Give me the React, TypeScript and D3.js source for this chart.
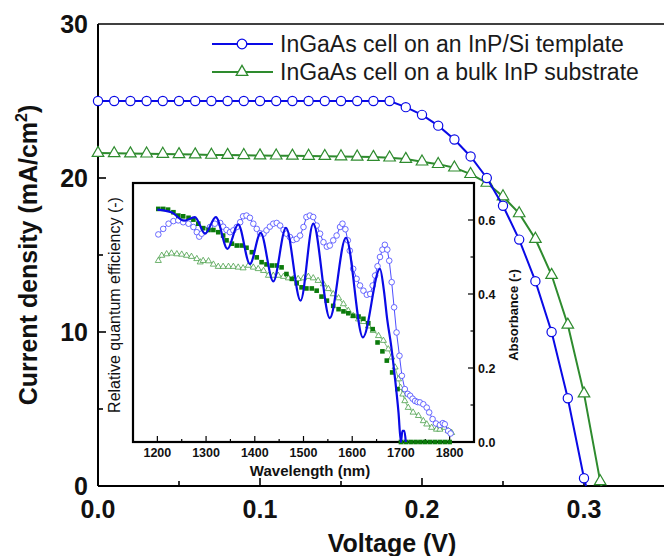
import React from "react";
import * as d3 from "d3";

// ---------- Main J-V data ----------
const voltage = [0, 0.01, 0.02, 0.03, 0.04, 0.05, 0.06, 0.07, 0.08, 0.09, 0.1, 0.11, 0.12, 0.13, 0.14, 0.15, 0.16, 0.17, 0.18, 0.19, 0.2, 0.21, 0.22, 0.23, 0.24, 0.25, 0.26, 0.27, 0.28, 0.29, 0.3, 0.31];
const jSiTemplate = [25.0, 25.0, 25.0, 25.0, 25.0, 25.0, 25.0, 25.0, 25.0, 25.0, 25.0, 25.0, 25.0, 25.0, 25.0, 25.0, 25.0, 25.0, 25.0, 24.6, 24.1, 23.4, 22.5, 21.4, 20.0, 18.2, 16.0, 13.3, 10.0, 5.7, 0.5];
const vocSiTemplate = 0.3013;
const jBulk = [21.62, 21.6, 21.59, 21.58, 21.56, 21.54, 21.52, 21.5, 21.49, 21.48, 21.46, 21.45, 21.44, 21.43, 21.42, 21.4, 21.38, 21.36, 21.32, 21.23, 21.06, 20.9, 20.67, 20.25, 19.68, 18.8, 17.7, 16.04, 13.7, 10.47, 6.0, 0.3];
const vocBulk = 0.3108;

const xTicks = [0, 0.1, 0.2, 0.3];
const xMinor = [0.05, 0.15, 0.25];
const yTicks = [0, 10, 20, 30];
const yMinor = [5, 15, 25];

const legendLabels = ["InGaAs cell on an InP/Si template", "InGaAs cell on a bulk InP substrate"];

// ---------- Inset data ----------
// Relative QE, InP/Si template cell (blue open circles)
const qeSiWl = [1202, 1212, 1223, 1233, 1243, 1253, 1264, 1274, 1281, 1286, 1291, 1298, 1308, 1318, 1329, 1335, 1342, 1349, 1356, 1363, 1370, 1376, 1383, 1390, 1397, 1404, 1411, 1418, 1424, 1431, 1438, 1445, 1452, 1459, 1465, 1472, 1479, 1486, 1493, 1500, 1506, 1513, 1520, 1527, 1534, 1541, 1548, 1554, 1561, 1568, 1575, 1580, 1586, 1591, 1595, 1602, 1609, 1616, 1623, 1630, 1637, 1642, 1647, 1652, 1657, 1662, 1667, 1672, 1676, 1681, 1686, 1691, 1697, 1702, 1708, 1714, 1719, 1724, 1729, 1734, 1739, 1746, 1753, 1758, 1765, 1772, 1780, 1786, 1790, 1797, 1802];
const qeSiVal = [0.561, 0.576, 0.59, 0.597, 0.599, 0.594, 0.59, 0.581, 0.567, 0.555, 0.563, 0.573, 0.581, 0.59, 0.592, 0.582, 0.573, 0.567, 0.572, 0.581, 0.594, 0.61, 0.612, 0.606, 0.59, 0.576, 0.564, 0.563, 0.572, 0.582, 0.59, 0.592, 0.585, 0.573, 0.563, 0.554, 0.546, 0.549, 0.558, 0.581, 0.608, 0.612, 0.608, 0.585, 0.563, 0.54, 0.528, 0.531, 0.545, 0.558, 0.581, 0.59, 0.575, 0.545, 0.517, 0.468, 0.441, 0.423, 0.409, 0.398, 0.4, 0.423, 0.45, 0.475, 0.5, 0.52, 0.533, 0.52, 0.49, 0.432, 0.364, 0.296, 0.233, 0.179, 0.143, 0.13, 0.125, 0.117, 0.111, 0.108, 0.107, 0.102, 0.093, 0.08, 0.062, 0.05, 0.046, 0.051, 0.048, 0.03, 0.023];

// Relative QE, bulk InP cell (green open triangles)
const qeBulkWl = [1202, 1209, 1219, 1229, 1240, 1250, 1260, 1270, 1281, 1288, 1294, 1305, 1315, 1325, 1335, 1346, 1356, 1366, 1376, 1387, 1397, 1407, 1418, 1428, 1438, 1448, 1459, 1469, 1479, 1489, 1500, 1510, 1520, 1530, 1541, 1551, 1561, 1572, 1582, 1592, 1602, 1613, 1623, 1633, 1643, 1654, 1664, 1674, 1681, 1688, 1695, 1699, 1704, 1708, 1715, 1725, 1736, 1746, 1753, 1763, 1773, 1780, 1790, 1797, 1804];
const qeBulkVal = [0.49, 0.504, 0.508, 0.51, 0.508, 0.507, 0.504, 0.501, 0.495, 0.486, 0.49, 0.489, 0.48, 0.474, 0.474, 0.474, 0.474, 0.472, 0.47, 0.477, 0.472, 0.468, 0.463, 0.45, 0.45, 0.45, 0.447, 0.443, 0.441, 0.441, 0.443, 0.447, 0.443, 0.436, 0.427, 0.414, 0.4, 0.389, 0.373, 0.355, 0.341, 0.332, 0.325, 0.313, 0.301, 0.287, 0.274, 0.251, 0.229, 0.202, 0.17, 0.147, 0.129, 0.111, 0.093, 0.08, 0.071, 0.057, 0.048, 0.039, 0.034, 0.034, 0.039, 0.03, 0.025];

// Absorbance, bulk InP (green filled squares)
const absBulkWl = [1202, 1212, 1222, 1233, 1243, 1253, 1264, 1274, 1284, 1294, 1305, 1315, 1325, 1335, 1342, 1353, 1363, 1373, 1383, 1394, 1404, 1414, 1424, 1435, 1445, 1455, 1465, 1476, 1486, 1496, 1506, 1517, 1527, 1537, 1548, 1561, 1572, 1582, 1592, 1602, 1613, 1623, 1633, 1642, 1652, 1662, 1671, 1682, 1693, 1700, 1710, 1720, 1730, 1740, 1750, 1760, 1770, 1780, 1790, 1800];
const absBulkVal = [0.63, 0.63, 0.628, 0.621, 0.612, 0.61, 0.606, 0.601, 0.59, 0.578, 0.573, 0.573, 0.567, 0.558, 0.545, 0.536, 0.531, 0.531, 0.525, 0.513, 0.499, 0.486, 0.48, 0.477, 0.477, 0.472, 0.454, 0.441, 0.429, 0.418, 0.415, 0.415, 0.409, 0.393, 0.382, 0.368, 0.359, 0.353, 0.348, 0.341, 0.339, 0.333, 0.321, 0.305, 0.269, 0.245, 0.22, 0.188, 0.143, 0, 0, 0, 0, 0, 0, 0, 0, 0, 0, 0];

// Absorbance, InP/Si template (blue solid line)
const absSiWl = [1200, 1230, 1255, 1277, 1298, 1320, 1344, 1366, 1390, 1412, 1438, 1464, 1494, 1520, 1554, 1587, 1622, 1657, 1665, 1672, 1680, 1688, 1695, 1700, 1703, 1707, 1710];
const absSiVal = [0.628, 0.62, 0.598, 0.608, 0.563, 0.608, 0.522, 0.588, 0.481, 0.565, 0.434, 0.579, 0.382, 0.59, 0.335, 0.552, 0.283, 0.468, 0.41, 0.33, 0.26, 0.17, 0.08, 0.0, 0.03, 0.03, 0.0];

const wlTicks = [1200, 1300, 1400, 1500, 1600, 1700, 1800];
const wlMinor = [1250, 1350, 1450, 1550, 1650, 1750];
const absTicks = [0, 0.2, 0.4, 0.6];
const absMinor = [0.1, 0.3, 0.5];

const FONT = "Arial, 'Liberation Sans', Helvetica, sans-serif";
const BLUE = "#0a0ae6";
const GREEN = "#2e8b2e";

export default function App() {
  const W = 664;
  const H = 556;

  // main scales
  const x = d3.scaleLinear().domain([0, 0.35]).range([98, 665]);
  const y = d3.scaleLinear().domain([0, 30]).range([486, 24]);

  const mainLine = d3
    .line<[number, number]>()
    .x((d) => x(d[0]))
    .y((d) => y(d[1]));

  const bluePts: [number, number][] = jSiTemplate.map((j, i) => [voltage[i], j]);
  const greenPts: [number, number][] = jBulk.map((j, i) => [voltage[i], j]);
  const blueLinePts = [...bluePts, [vocSiTemplate, 0] as [number, number]];
  const greenLinePts = [...greenPts, [vocBulk, 0] as [number, number]];

  const triBig = d3.symbol(d3.symbolTriangle, 58)() as string;
  const triSmall = d3.symbol(d3.symbolTriangle, 16)() as string;

  // inset scales
  const xi = d3.scaleLinear().domain([1150, 1850]).range([133, 474]);
  const yAbs = d3.scaleLinear().domain([0, 0.7]).range([442, 183]);
  const yQE = d3.scaleLinear().domain([0, 0.7]).range([442, 183]);

  const absLine = d3
    .line<number>()
    .x((_, i) => xi(absSiWl[i]))
    .y((d) => yAbs(d))
    .curve(d3.curveMonotoneX);

  const qeSiLine = d3
    .line<number>()
    .x((_, i) => xi(qeSiWl[i]))
    .y((d) => yQE(d));
  const qeBulkLine = d3
    .line<number>()
    .x((_, i) => xi(qeBulkWl[i]))
    .y((d) => yQE(d));

  const [x0, x1] = x.range();
  const [yb, yt] = y.range();

  return (
    <svg
      width={W}
      height={H}
      viewBox={`0 0 ${W} ${H}`}
      style={{ position: "absolute", left: 0, top: 0, background: "#fff" }}
      fontFamily={FONT}
    >
      <rect x={0} y={0} width={W} height={H} fill="#fff" />

      {/* main frame */}
      <line x1={x0} x2={x1} y1={yt} y2={yt} stroke="#000" strokeWidth={1.6} />
      <line x1={x0} x2={x1} y1={yb} y2={yb} stroke="#000" strokeWidth={2} />
      <line x1={x0} x2={x0} y1={yt} y2={yb} stroke="#000" strokeWidth={2} />

      {/* x ticks */}
      {xTicks.map((t) => (
        <g key={"xt" + t}>
          {t > 0 && <line x1={x(t)} x2={x(t)} y1={yb} y2={yb - 8} stroke="#000" strokeWidth={1.6} />}
          <text x={x(t)} y={518} textAnchor="middle" fontSize={25} fontWeight="bold" fill="#111">
            {t.toFixed(1)}
          </text>
        </g>
      ))}
      {xMinor.map((t) => (
        <line key={"xm" + t} x1={x(t)} x2={x(t)} y1={yb} y2={yb - 5} stroke="#000" strokeWidth={1.6} />
      ))}
      {/* y ticks */}
      {yTicks.map((t) => (
        <g key={"yt" + t}>
          {t > 0 && t < 30 && <line x1={x0} x2={x0 + 8} y1={y(t)} y2={y(t)} stroke="#000" strokeWidth={1.6} />}
          <text x={88} y={y(t) + 8.5} textAnchor="end" fontSize={25} fontWeight="bold" fill="#111">
            {t}
          </text>
        </g>
      ))}
      {yMinor.map((t) => (
        <line key={"ym" + t} x1={x0} x2={x0 + 5} y1={y(t)} y2={y(t)} stroke="#000" strokeWidth={1.6} />
      ))}

      {/* axis titles */}
      <text x={392} y={552} textAnchor="middle" fontSize={25} fontWeight="bold" fill="#111">
        Voltage (V)
      </text>
      <text
        transform="translate(37,255) rotate(-90)"
        textAnchor="middle"
        fontSize={25}
        fontWeight="bold"
        fill="#111"
      >
        Current density (mA/cm
        <tspan dy={-10} fontSize={16}>2</tspan>
        <tspan dy={10}>)</tspan>
      </text>

      {/* legend */}
      <g>
        <line x1={212} x2={273} y1={44} y2={44} stroke={BLUE} strokeWidth={2} />
        <circle cx={242} cy={44} r={4.8} fill="#fff" stroke={BLUE} strokeWidth={1.3} />
        <text x={280} y={52} fontSize={23} fill="#1a1a1a">{legendLabels[0]}</text>
        <line x1={212} x2={273} y1={72} y2={72} stroke={GREEN} strokeWidth={2} />
        <path d={triBig} transform="translate(242,72)" fill="#fff" stroke={GREEN} strokeWidth={1.3} />
        <text x={280} y={80} fontSize={23} fill="#1a1a1a">{legendLabels[1]}</text>
      </g>

      {/* inset */}
      <g>
        <rect x={133} y={183} width={341} height={259} fill="#fff" stroke="#000" strokeWidth={2.2} />
        {/* inset x ticks */}
        {wlTicks.map((t) => (
          <g key={"wt" + t}>
            <line x1={xi(t)} x2={xi(t)} y1={442} y2={436} stroke="#000" strokeWidth={1.2} />
            <text x={xi(t)} y={457} textAnchor="middle" fontSize={12.5} fontWeight="bold" fill="#111">
              {t}
            </text>
          </g>
        ))}
        {wlMinor.map((t) => (
          <line key={"wm" + t} x1={xi(t)} x2={xi(t)} y1={442} y2={439} stroke="#000" strokeWidth={1.2} />
        ))}
        {/* inset right axis ticks */}
        {absTicks.map((t) => (
          <g key={"at" + t}>
            <line x1={474} x2={468} y1={yAbs(t)} y2={yAbs(t)} stroke="#000" strokeWidth={1.2} />
            <text x={478} y={yAbs(t) + 4.5} fontSize={12.5} fontWeight="bold" fill="#111">
              {t.toFixed(1)}
            </text>
          </g>
        ))}
        {absMinor.map((t) => (
          <line key={"am" + t} x1={474} x2={470.5} y1={yAbs(t)} y2={yAbs(t)} stroke="#000" strokeWidth={1.2} />
        ))}
        <text x={310} y={476} textAnchor="middle" fontSize={15} fontWeight="bold" fill="#111">
          Wavelength (nm)
        </text>
        <text
          transform="translate(518,315) rotate(-90)"
          textAnchor="middle"
          fontSize={13}
          fontWeight="bold"
          fill="#111"
        >
          Absorbance (-)
        </text>
        <text
          transform="translate(120,305) rotate(-90)"
          textAnchor="middle"
          fontSize={16}
          fill="#111"
        >
          Relative quantum efficiency (-)
        </text>

        {/* QE bulk - green triangles */}
        <path d={qeBulkLine(qeBulkVal) as string} fill="none" stroke="#5aa85a" strokeWidth={0.8} />
        {qeBulkVal.map((v, i) => (
          <path
            key={"qb" + i}
            d={triSmall}
            transform={`translate(${xi(qeBulkWl[i])},${yQE(v)})`}
            fill="#fff"
            stroke="#4aa04a"
            strokeWidth={0.8}
          />
        ))}
        {/* QE InP/Si - blue circles */}
        <path d={qeSiLine(qeSiVal) as string} fill="none" stroke="#3a3aff" strokeWidth={0.9} />
        {qeSiVal.map((v, i) => (
          <circle
            key={"qs" + i}
            cx={xi(qeSiWl[i])}
            cy={yQE(v)}
            r={2.8}
            fill="#fff"
            stroke="#4646ff"
            strokeWidth={0.8}
          />
        ))}
        {/* Absorbance bulk - green squares */}
        {absBulkVal.map((v, i) => (
          <rect
            key={"ab" + i}
            x={xi(absBulkWl[i]) - 2.3}
            y={yAbs(v) - 2.3}
            width={4.6}
            height={4.6}
            fill="#0b7a0b"
          />
        ))}
        {/* Absorbance InP/Si - blue line */}
        <path d={absLine(absSiVal) as string} fill="none" stroke={BLUE} strokeWidth={2.2} />
      </g>

      {/* main curves */}
      <path d={mainLine(greenLinePts) as string} fill="none" stroke={GREEN} strokeWidth={2} />
      {greenPts.map((p, i) => (
        <path
          key={"g" + i}
          d={triBig}
          transform={`translate(${x(p[0])},${y(p[1])})`}
          fill="#fff"
          stroke={GREEN}
          strokeWidth={1.2}
        />
      ))}
      <path d={mainLine(blueLinePts) as string} fill="none" stroke={BLUE} strokeWidth={2} />
      {bluePts.map((p, i) => (
        <circle key={"b" + i} cx={x(p[0])} cy={y(p[1])} r={4.6} fill="#fff" stroke={BLUE} strokeWidth={1.2} />
      ))}
    </svg>
  );
}
